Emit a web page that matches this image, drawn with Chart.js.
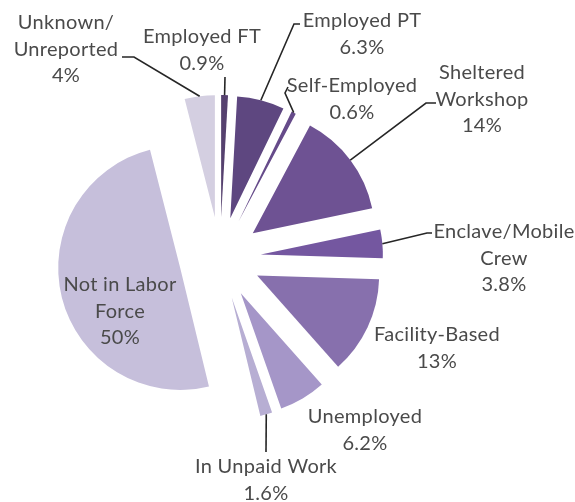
<!DOCTYPE html>
<html>
<head>
<meta charset="utf-8">
<script src="https://cdn.jsdelivr.net/npm/chart.js@4/dist/chart.umd.min.js"></script>
<style>
  html, body { margin: 0; padding: 0; background: #ffffff; }
  #wrap { width: 575px; height: 502px; position: relative; }
</style>
</head>
<body>
<div id="wrap"><canvas id="pie"></canvas></div>
<script>
// Employment outcomes, share of people (%), clockwise from 12 o'clock
const categories = [
  'Employed FT',
  'Employed PT',
  'Self-Employed',
  'Sheltered\nWorkshop',
  'Enclave/Mobile\nCrew',
  'Facility-Based',
  'Unemployed',
  'In Unpaid Work',
  'Not in Labor\nForce',
  'Unknown/\nUnreported'
];
const shares = [0.9, 6.3, 0.6, 14, 3.8, 13, 6.2, 1.6, 50, 4];
const sliceColors = [
  '#56416f', '#5e4780', '#664b8a', '#6e5293', '#7457a0',
  '#8770ad', '#a596c8', '#b7aed3', '#c6bfdb', '#d4cfe1'
];

// Label placement: centre of first text line, plus leader-line path
// (points from the label toward the slice; the arc end is added at draw time)
const labelLayout = [
  { x: 202, y: 37,  leader: [[225, 77]] },
  { x: 362, y: 21,  leader: [[300, 24], [294, 24]] },
  { x: 352, y: 86,  leader: [[288, 87], [285, 93]] },
  { x: 482, y: 73,  leader: [[436, 103], [426, 103]] },
  { x: 504, y: 232, leader: [[432, 233], [427, 233]] },
  { x: 437, y: 335, leader: null },
  { x: 365, y: 417, leader: null },
  { x: 266, y: 467, leader: [[266, 452]] },
  { x: 120, y: 285, leader: null },
  { x: 66,  y: 23,  leader: [[122, 57], [134, 57]] }
];

const EXPLODE = 41;      // distance each slice is pulled out from the centre
const LINE_H = 26.5;
const FONT = '20px Lato, "Open Sans", sans-serif';

// Pull every slice outward along its bisector, keeping its radius unchanged
const explodePlugin = {
  id: 'explode',
  afterDatasetsUpdate(chart) {
    const meta = chart.getDatasetMeta(0);
    meta.data.forEach(arc => {
      const mid = (arc.startAngle + arc.endAngle) / 2;
      arc.x += EXPLODE * Math.cos(mid);
      arc.y += EXPLODE * Math.sin(mid);
    });
  }
};

// Category / percentage labels with leader lines
const labelPlugin = {
  id: 'sliceLabels',
  afterDatasetsDraw(chart) {
    const ctx = chart.ctx;
    const meta = chart.getDatasetMeta(0);
    const values = chart.data.datasets[0].data;
    ctx.save();
    meta.data.forEach((arc, i) => {
      const lay = labelLayout[i];
      if (lay.leader) {
        const mid = (arc.startAngle + arc.endAngle) / 2;
        const ex = arc.x + arc.outerRadius * Math.cos(mid);
        const ey = arc.y + arc.outerRadius * Math.sin(mid);
        ctx.beginPath();
        ctx.strokeStyle = '#262626';
        ctx.lineWidth = 1.6;
        ctx.moveTo(lay.leader[0][0], lay.leader[0][1]);
        for (let k = 1; k < lay.leader.length; k++) ctx.lineTo(lay.leader[k][0], lay.leader[k][1]);
        ctx.lineTo(ex, ey);
        ctx.stroke();
      }
      const lines = chart.data.labels[i].split('\n').concat([values[i] + '%']);
      ctx.font = FONT;
      if ('letterSpacing' in ctx) ctx.letterSpacing = '0.3px';
      ctx.fillStyle = '#4a4a4a';
      ctx.textAlign = 'center';
      ctx.textBaseline = 'middle';
      lines.forEach((t, j) => ctx.fillText(t, lay.x, lay.y + j * LINE_H));
    });
    ctx.restore();
  }
};

new Chart(document.getElementById('pie'), {
  type: 'pie',
  data: {
    labels: categories,
    datasets: [{
      data: shares,
      backgroundColor: sliceColors,
      borderWidth: 0
    }]
  },
  options: {
    responsive: true,
    maintainAspectRatio: false,
    animation: false,
    radius: 122,
    layout: { padding: { left: 0, right: 135, top: 14, bottom: 0 } },
    plugins: {
      legend: { display: false },
      tooltip: { enabled: false }
    },
    events: []
  },
  plugins: [explodePlugin, labelPlugin]
});
</script>
</body>
</html>
